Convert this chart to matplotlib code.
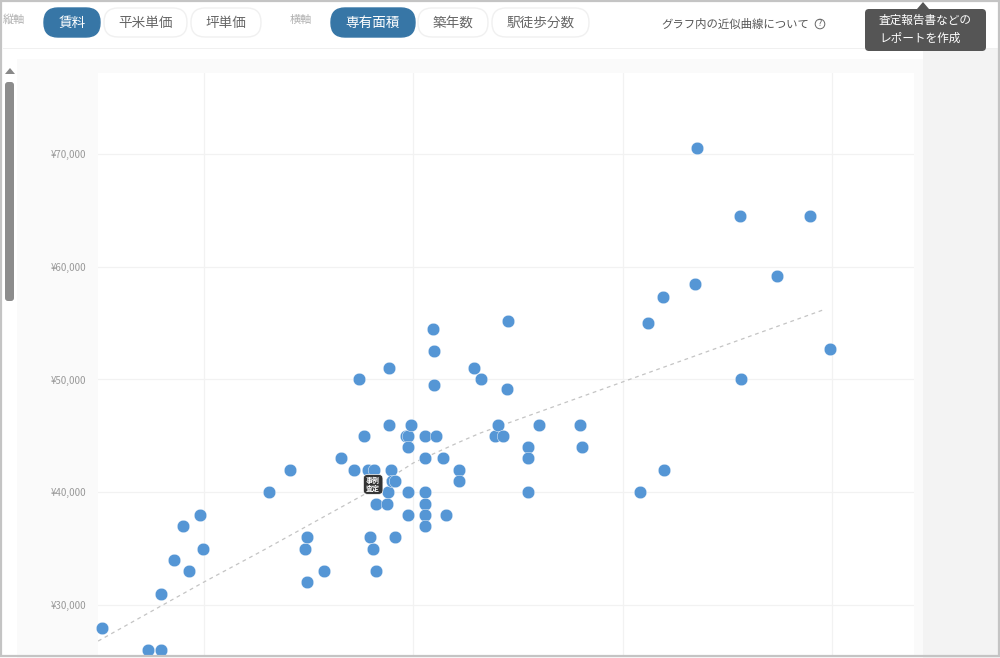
import matplotlib
matplotlib.use('Agg')
import matplotlib.pyplot as plt
from matplotlib.patches import FancyBboxPatch, Rectangle, Polygon, Circle

plt.rcParams['font.family'] = ['Noto Sans CJK JP', 'DejaVu Sans']

# chart data
area = [15.13, 17.32, 17.95, 17.95, 18.57, 19.0, 19.28, 19.81, 19.95, 23.11, 24.11, 24.83, 24.92, 24.92,
        25.73, 26.55, 27.17, 27.41, 27.64, 27.84, 28.12, 27.93, 28.07, 28.22, 28.22, 28.74, 28.79, 28.84,
        28.84, 28.93, 28.98, 29.13, 29.13, 29.65, 29.75, 29.75, 29.89, 29.75, 29.75, 30.56, 30.56, 30.56,
        30.56, 30.56, 30.56, 30.94, 30.99, 30.99, 31.08, 31.42, 31.56, 32.18, 32.18, 32.9, 33.23, 33.9,
        34.05, 34.29, 34.48, 34.52, 35.48, 35.48, 35.48, 36.0, 37.96, 38.06, 40.83, 41.21, 41.93, 41.98,
        43.46, 43.55, 45.6, 45.66, 47.38, 48.95, 49.91]
rent = [28000, 26000, 26000, 31000, 34000, 37000, 33000, 38000, 35000, 40000, 42000, 35000, 36000, 32000,
        33000, 43000, 42000, 50000, 45000, 42000, 42000, 36000, 35000, 33000, 39000, 39000, 40000, 46000,
        51000, 42000, 41000, 41000, 36000, 45000, 45000, 44000, 46000, 40000, 38000, 45000, 43000, 40000,
        39000, 38000, 37000, 54500, 52500, 49500, 45000, 43000, 38000, 42000, 41000, 51000, 50000, 45000,
        46000, 45000, 49200, 55200, 44000, 43000, 40000, 46000, 46000, 44000, 40000, 55000, 57300, 42000,
        58500, 70500, 64500, 50000, 59200, 64500, 52700]
trend_area = [14.94, 20.0, 22.68, 27.6, 30.0, 32.2, 33.2, 49.7]
trend_rent = [26800, 32040, 34700, 39750, 42600, 44450, 45250, 56250]
x_ticks = [20, 30, 40, 50]
y_ticks = [30000, 40000, 50000, 60000, 70000]
case_point = (28.08, 40700)

y_buttons = [('賃料', 44, 100, True), ('平米単価', 104, 187, False), ('坪単価', 191, 261, False)]
x_buttons = [('専有面積', 331, 415, True), ('築年数', 418, 488, False), ('駅徒歩分数', 492, 589, False)]

W, H = 1000, 658
fig = plt.figure(figsize=(W / 100, H / 100), dpi=100, facecolor='white')

# page furniture, in pixel coordinates
bg = fig.add_axes([0, 0, 1, 1], zorder=0)
bg.set_xlim(0, W)
bg.set_ylim(H, 0)
bg.axis('off')
bg.add_patch(Rectangle((923, 48), 77, 610, color='#f3f3f3', lw=0))
bg.add_patch(Rectangle((17, 59), 906, 600, color='#fafafa', lw=0))
bg.add_patch(Rectangle((3, 48), 995, 1, color='#f0f0f0', lw=0))

ax = fig.add_axes([98 / W, 1 - 656 / H, (914 - 98) / W, (656 - 73) / H], zorder=1)
ax.set_xlim(14.935, 53.92)
ax.set_ylim(25476, 77184)
ax.set_facecolor('white')
for s in ax.spines.values():
    s.set_visible(False)
ax.set_xticks(x_ticks)
ax.set_yticks(y_ticks)
ax.set_xticklabels([])
ax.set_yticklabels([f'¥{v:,}' for v in y_ticks])
ax.tick_params(length=0, pad=8.5, labelsize=7, labelcolor='#999999')
ax.grid(color='#f2f2f2', lw=0.9)
ax.set_axisbelow(True)
ax.plot(trend_area, trend_rent, color='#c4c4c4', lw=0.9, ls=(0, (3, 3)), zorder=2)
ax.scatter(area, rent, s=82, color='#5596d5', edgecolors='white', linewidths=0.3, zorder=3, clip_on=False)
ax.text(case_point[0], case_point[1], '事例\n査定', color='white', fontsize=5, fontweight='bold',
        ha='center', va='center', linespacing=1.0, zorder=5,
        bbox=dict(boxstyle='round,pad=0.4,rounding_size=0.6', fc='#333333', ec='white', lw=0.5))

# header and overlays
top = fig.add_axes([0, 0, 1, 1], zorder=2)
top.set_xlim(0, W)
top.set_ylim(H, 0)
top.axis('off')
top.patch.set_alpha(0)


def button(label, x0, x1, active):
    fc = '#3776a6' if active else 'white'
    ec = '#3776a6' if active else '#f0f0f0'
    top.add_patch(FancyBboxPatch((x0 + 14, 8 + 14), x1 - x0 - 28, 1, boxstyle='round,pad=14,rounding_size=14',
                                 fc=fc, ec=ec, lw=1))
    top.text((x0 + x1) / 2, 23, label, color='white' if active else '#666666', fontsize=9.8, ha='center', va='center')


top.text(14, 20, '縦軸', color='#b0b0b0', fontsize=8, ha='center', va='center')
for b in y_buttons:
    button(*b)
top.text(301, 20, '横軸', color='#b0b0b0', fontsize=8, ha='center', va='center')
for b in x_buttons:
    button(*b)

top.text(661, 24, 'グラフ内の近似曲線について', color='#555555', fontsize=8.2, ha='left', va='center')
top.add_patch(Circle((820, 24), 4.8, fc='white', ec='#666666', lw=0.7))
top.text(820, 24, '?', color='#666666', fontsize=6.5, ha='center', va='center')

top.add_patch(Polygon([[917, 9], [923, 2], [929, 9]], color='#555555', lw=0))
top.add_patch(FancyBboxPatch((869, 13), 113, 34, boxstyle='round,pad=4,rounding_size=4', fc='#555555', ec='none'))
top.text(879, 20, '査定報告書などの', color='white', fontsize=8.4, ha='left', va='center')
top.text(879, 38, 'レポートを作成', color='white', fontsize=8.4, ha='left', va='center')

# scrollbar
top.add_patch(Polygon([[5, 74], [10, 68], [15, 74]], color='#888888', lw=0))
top.add_patch(FancyBboxPatch((7, 84), 5, 215, boxstyle='round,pad=2,rounding_size=3', fc='#8c8c8c', ec='none'))

# outer screenshot border
top.add_patch(Rectangle((1, 1), 997.5, 655, fc='none', ec='#c4c4c4', lw=1.6))

fig.savefig('out.png', dpi=100)
